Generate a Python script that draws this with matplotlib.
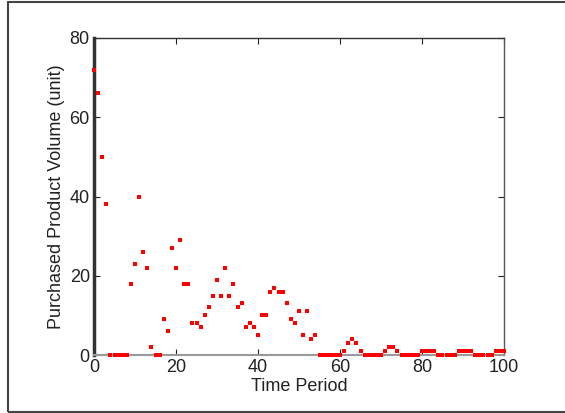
import matplotlib
matplotlib.use("Agg")
import matplotlib.pyplot as plt
from matplotlib.patches import Rectangle

time_period = list(range(0, 101))
volume = [
    72, 66, 50, 38, 0, 0, 0, 0, 0, 18,
    23, 40, 26, 22, 2, 0, 0, 9, 6, 27,
    22, 29, 18, 18, 8, 8, 7, 10, 12, 15,
    19, 15, 22, 15, 18, 12, 13, 7, 8, 7,
    5, 10, 10, 16, 17, 16, 16, 13, 9, 8,
    11, 5, 11, 4, 5, 0, 0, 0, 0, 0,
    0, 1, 3, 4, 3, 1, 0, 0, 0, 0,
    0, 1, 2, 2, 1, 0, 0, 0, 0, 0,
    1, 1, 1, 1, 0, 0, 0, 0, 0, 1,
    1, 1, 1, 0, 0, 0, 0, 0, 1, 1,
    1,
]
x_ticks = [0, 20, 40, 60, 80, 100]
y_ticks = [0, 20, 40, 60, 80]

plt.rcParams['font.family'] = ['Liberation Sans', 'DejaVu Sans']

fig = plt.figure(figsize=(5.65, 4.13), dpi=100)
fig.patches.append(Rectangle((8 / 565, 1.5 / 413), 1.0, 409.5 / 413, transform=fig.transFigure,
                             fill=False, edgecolor='#444444', linewidth=1.5))
ax = fig.add_axes([94 / 565, 1 - 355 / 413, 410 / 565, 317 / 413])

ax.plot(time_period, volume, linestyle='none', marker='s', markersize=3.2,
        color='red', markeredgewidth=0, clip_on=False, zorder=5)

ax.set_xlim(0, 100)
ax.set_ylim(0, 80)
ax.set_xticks(x_ticks)
ax.set_yticks(y_ticks)
ax.tick_params(direction='in', top=True, right=True, labelsize=13, length=4,
               width=0.8, colors='#222222', pad=3)
for lbl in ax.get_xticklabels() + ax.get_yticklabels():
    lbl.set_color('#222222')
ax.set_xlabel('Time Period', fontsize=13, labelpad=1, color='#222222')
ax.set_ylabel('Purchased Product Volume (unit)', fontsize=13, labelpad=3, color='#222222')

ax.spines['left'].set_linewidth(2.5)
ax.spines['left'].set_color('#333333')
ax.spines['bottom'].set_linewidth(1.5)
ax.spines['bottom'].set_color('#999999')
ax.spines['top'].set_linewidth(1.0)
ax.spines['top'].set_color('#333333')
ax.spines['right'].set_linewidth(1.0)
ax.spines['right'].set_color('#555555')

fig.savefig('out.png', dpi=100)
